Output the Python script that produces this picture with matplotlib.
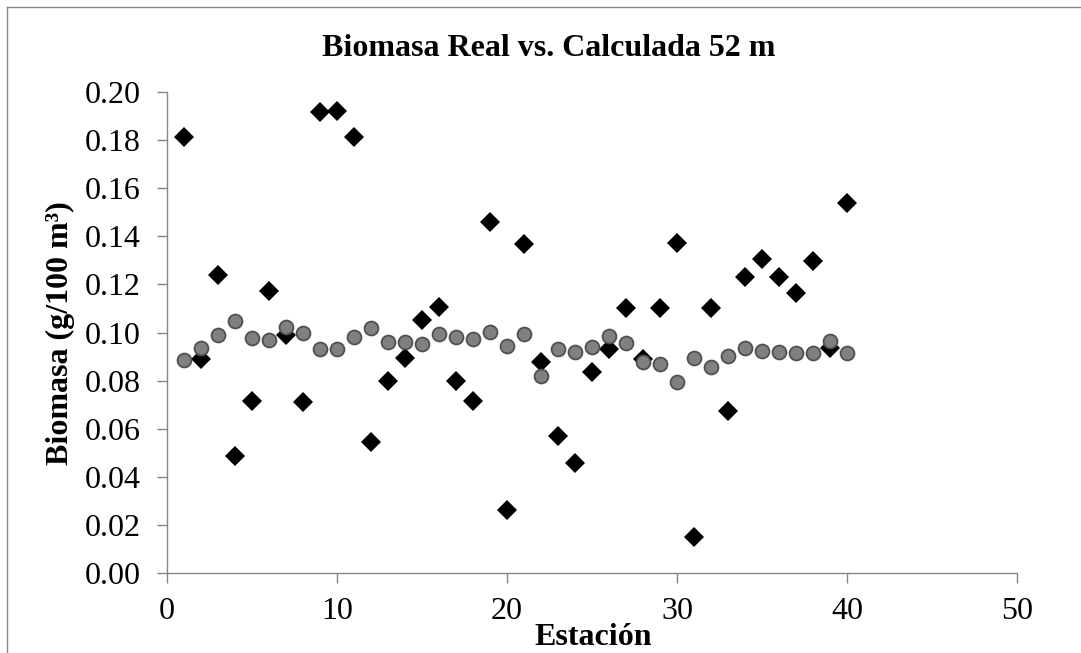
import matplotlib
matplotlib.use("Agg")
import matplotlib.pyplot as plt
from matplotlib.lines import Line2D

# Station numbers
estacion = list(range(1, 41))

# Measured biomass (g/100 m3)
biomasa_real = [
    0.1814, 0.0891, 0.1239, 0.0488, 0.0715, 0.1174, 0.0990, 0.0712, 0.1918, 0.1922,
    0.1814, 0.0543, 0.0798, 0.0895, 0.1052, 0.1104, 0.0797, 0.0715, 0.1458, 0.0262,
    0.1367, 0.0876, 0.0570, 0.0456, 0.0837, 0.0932, 0.1101, 0.0890, 0.1101, 0.1371,
    0.0148, 0.1101, 0.0674, 0.1229, 0.1306, 0.1229, 0.1163, 0.1299, 0.0934, 0.1540,
]

# Calculated biomass (g/100 m3)
biomasa_calc = [
    0.0886, 0.0935, 0.0990, 0.1048, 0.0978, 0.0969, 0.1024, 0.0997, 0.0932, 0.0932,
    0.0980, 0.1017, 0.0962, 0.0962, 0.0951, 0.0995, 0.0981, 0.0973, 0.1001, 0.0945,
    0.0992, 0.0820, 0.0931, 0.0919, 0.0941, 0.0987, 0.0955, 0.0876, 0.0869, 0.0796,
    0.0893, 0.0855, 0.0902, 0.0934, 0.0923, 0.0918, 0.0916, 0.0916, 0.0966, 0.0916,
]

x_ticks = [0, 10, 20, 30, 40, 50]
y_ticks = [0.00, 0.02, 0.04, 0.06, 0.08, 0.10, 0.12, 0.14, 0.16, 0.18, 0.20]

W, H = 1081, 653
fig = plt.figure(figsize=(W / 100, H / 100), dpi=100)
serif = ["Liberation Serif", "DejaVu Serif"]
axis_grey = "#868686"
fs = 23

ax = fig.add_axes([167 / W, 1 - 573 / H, (1017 - 167) / W, (573 - 92) / H])

ax.plot(estacion, biomasa_real, linestyle="none", marker="D", markersize=10,
        color="black", markeredgewidth=0, zorder=3)
ax.plot(estacion, biomasa_calc, linestyle="none", marker="o", markersize=10,
        markerfacecolor="#808080", markeredgecolor="#505050", markeredgewidth=1.3,
        zorder=4)

ax.set_xlim(0, 50)
ax.set_ylim(0, 0.20)
ax.set_xticks(x_ticks)
ax.set_yticks(y_ticks)
ax.set_xticklabels([str(v) for v in x_ticks])
ax.set_yticklabels([f"{v:.2f}" for v in y_ticks])

for side in ("top", "right"):
    ax.spines[side].set_visible(False)
for side in ("left", "bottom"):
    ax.spines[side].set_color(axis_grey)
    ax.spines[side].set_linewidth(1.0)

ax.tick_params(axis="both", direction="out", length=7, width=1.0, color=axis_grey,
               labelsize=fs, labelcolor="black")
ax.tick_params(axis="y", pad=12)
ax.tick_params(axis="x", pad=10)
for lbl in ax.get_xticklabels() + ax.get_yticklabels():
    lbl.set_family(serif)

fig.text(549 / W, 1 - 56 / H, "Biomasa Real vs. Calculada 52 m", ha="center",
         va="baseline", fontsize=fs, fontweight="bold", family=serif)
fig.text(60 / W, 1 - 333 / H, "Biomasa (g/100 m\u00b3)", ha="center", va="center",
         rotation=90, fontsize=fs, fontweight="bold", family=serif)
fig.text(593 / W, 1 - 645 / H, "Estación", ha="center", va="baseline",
         fontsize=fs, fontweight="bold", family=serif)

# Chart-area border (left and top edges)
fig.add_artist(Line2D([7 / W, 7 / W], [0, 1 - 7 / H], transform=fig.transFigure,
                      color=axis_grey, linewidth=1.0))
fig.add_artist(Line2D([7 / W, 1], [1 - 7 / H, 1 - 7 / H], transform=fig.transFigure,
                      color=axis_grey, linewidth=1.0))

fig.savefig("out.png", dpi=100)
